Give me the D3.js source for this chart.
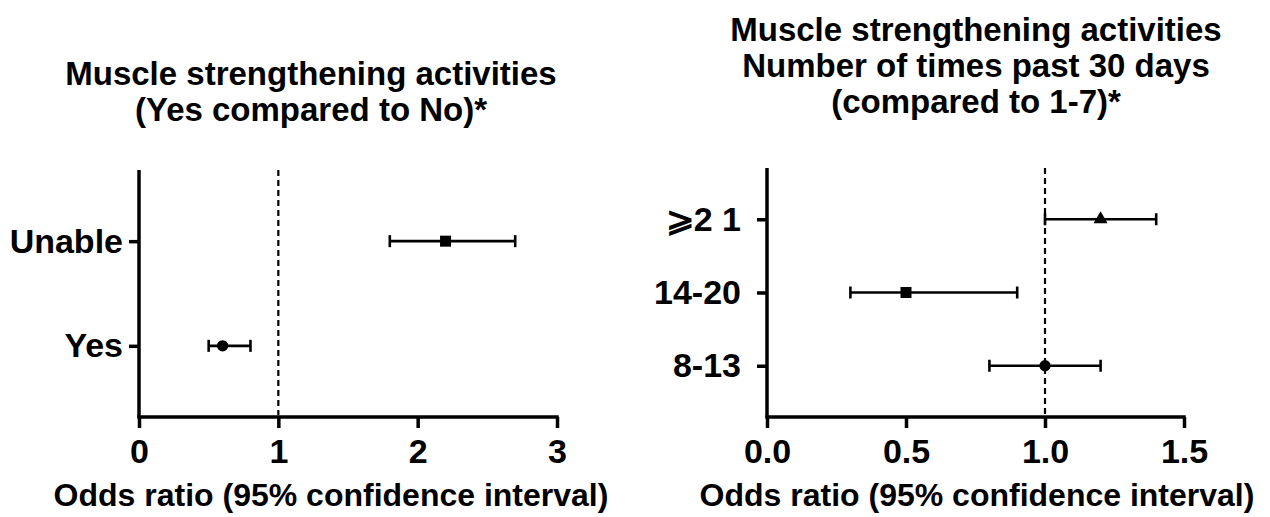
<!DOCTYPE html>
<html><head><meta charset="utf-8">
<script src="https://cdn.jsdelivr.net/npm/d3@7"></script>
<style>
body{margin:0;background:#fff;}
text{font-family:"Liberation Sans",Arial,sans-serif;font-weight:bold;fill:#000;}
</style></head><body>
<svg id="c" width="1270" height="517"></svg>
<script>
// Left panel data
const leftCategories = ["Unable", "Yes"];
const leftOR = [2.2, 0.6];
const leftLower = [1.8, 0.5];
const leftUpper = [2.7, 0.8];
const leftShapes = ["square", "circle"];
const leftTicks = [0, 1, 2, 3];
const leftTitle = ["Muscle strengthening activities", "(Yes compared to No)*"];

// Right panel data
const rightCategories = ["\u2A7E2 1", "14-20", "8-13"];
const rightOR = [1.2, 0.5, 1.0];
const rightLower = [1.0, 0.3, 0.8];
const rightUpper = [1.4, 0.9, 1.2];
const rightShapes = ["triangle", "square", "circle"];
const rightTicks = [0, 0.5, 1.0, 1.5];
const rightTitle = ["Muscle strengthening activities", "Number of times past 30 days", "(compared to 1-7)*"];

const xTitle = "Odds ratio (95% confidence interval)";
const refLine = 1;

const svg = d3.select("#c");

function panel(cfg) {
  const x = d3.scaleLinear().domain(cfg.domain).range([cfg.x0, cfg.x1]);
  const y = d3.scalePoint().domain(cfg.cats).range([cfg.y0, cfg.y1]).padding(cfg.pad);
  const g = svg.append("g");

  // x axis
  const xa = g.append("g").attr("transform", `translate(0,${cfg.y1})`)
    .call(d3.axisBottom(x).tickValues(cfg.ticks).tickFormat(cfg.fmt).tickSizeOuter(0).tickSize(11).tickPadding(11));
  xa.select(".domain").attr("stroke", "#000").attr("stroke-width", 3.5)
    .attr("d", `M${cfg.x0 - 1.75},0H${cfg.x1 + 1.75}`);
  xa.selectAll(".tick line").attr("stroke", "#000").attr("stroke-width", 3.5);
  xa.selectAll(".tick text").attr("font-size", 34).attr("font-family", "Liberation Sans, Arial").attr("font-weight", "bold").attr("fill", "#000");

  // y axis
  const ya = g.append("g").attr("transform", `translate(${cfg.x0},0)`)
    .call(d3.axisLeft(y).tickSizeOuter(0).tickSize(10).tickPadding(cfg.labPad));
  ya.select(".domain").attr("stroke", "#000").attr("stroke-width", 3.5)
    .attr("d", `M0,${cfg.y0}V${cfg.y1}`);
  ya.selectAll(".tick line").attr("stroke", "#000").attr("stroke-width", 3.5);
  ya.selectAll(".tick text").attr("font-size", 34).attr("font-family", "Liberation Sans, Arial").attr("font-weight", "bold").attr("fill", "#000");

  // reference line
  g.append("line").attr("x1", x(refLine)).attr("x2", x(refLine))
    .attr("y1", cfg.y0).attr("y2", cfg.y1 - 1.75)
    .attr("stroke", "#000").attr("stroke-width", 2.2).attr("stroke-dasharray", "6,4");

  // error bars
  cfg.cats.forEach((c, i) => {
    const yy = y(c);
    g.append("line").attr("x1", x(cfg.lo[i])).attr("x2", x(cfg.hi[i])).attr("y1", yy).attr("y2", yy)
      .attr("stroke", "#000").attr("stroke-width", 2.6);
    [cfg.lo[i], cfg.hi[i]].forEach(v => {
      g.append("line").attr("x1", x(v)).attr("x2", x(v)).attr("y1", yy - 6).attr("y2", yy + 6)
        .attr("stroke", "#000").attr("stroke-width", 2.6);
    });
    const sym = cfg.shapes[i] === "square" ? d3.symbolSquare : cfg.shapes[i] === "triangle" ? d3.symbolTriangle : d3.symbolCircle;
    const size = cfg.shapes[i] === "square" ? 121 : cfg.shapes[i] === "triangle" ? 85 : 100;
    g.append("path").attr("d", d3.symbol().type(sym).size(size)())
      .attr("transform", `translate(${x(cfg.or[i])},${yy})`).attr("fill", "#000");
  });

  // title
  cfg.title.forEach((t, i) => {
    g.append("text").attr("x", cfg.tx).attr("y", cfg.ty + i * 36).attr("text-anchor", "middle")
      .attr("font-size", 33).text(t);
  });
  // x title
  g.append("text").attr("x", cfg.xtx).attr("y", 506).attr("text-anchor", "middle")
    .attr("font-size", 32).text(xTitle);
}

panel({domain:[0,3], x0:139, x1:557, y0:170, y1:417, pad:0.68, cats:leftCategories,
  or:leftOR, lo:leftLower, hi:leftUpper, shapes:leftShapes, ticks:leftTicks, fmt:d3.format("d"),
  labPad:6, title:leftTitle, tx:311, ty:85, xtx:331});
panel({domain:[0,1.5], x0:767, x1:1184, y0:168, y1:417, pad:0.7, cats:rightCategories,
  or:rightOR, lo:rightLower, hi:rightUpper, shapes:rightShapes, ticks:rightTicks, fmt:d3.format(".1f"),
  labPad:16, title:rightTitle, tx:976, ty:41, xtx:977});
</script>
</body></html>
